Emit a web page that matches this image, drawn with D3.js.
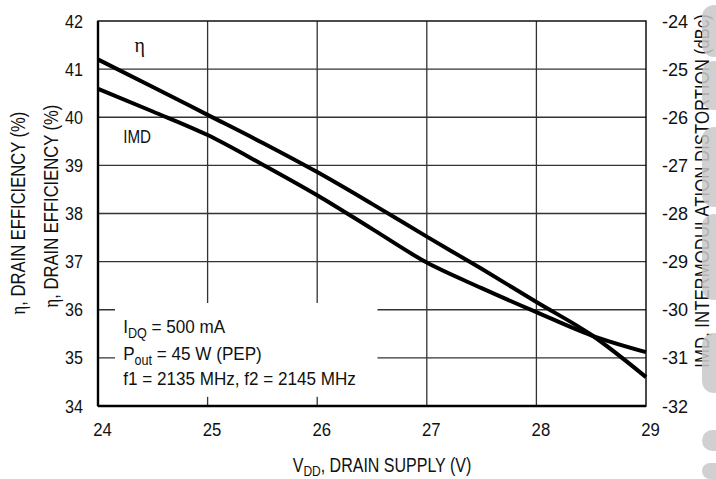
<!DOCTYPE html>
<html lang="en">
<head>
  <meta charset="utf-8" />
  <title>Drain efficiency and IMD vs drain supply</title>
  <script src="https://cdn.jsdelivr.net/npm/d3@7"></script>
  <style>
    body { margin: 0; background: #fff; }
    svg text { font-family: "Liberation Sans", Arial, Helvetica, sans-serif; fill: #111; }
    .greek { font-family: "Liberation Serif", "DejaVu Serif", serif; }
  </style>
</head>
<body>
  <div id="chart"></div>
  <script>
    // values
    const vdd = [24, 24.5, 25, 25.5, 26, 26.5, 27, 27.5, 28, 28.5, 29];
    const eta = [41.2, 40.63, 40.05, 39.47, 38.86, 38.2, 37.52, 36.85, 36.16, 35.48, 34.6];
    const imd = [-25.41, -25.88, -26.37, -26.98, -27.62, -28.32, -29.02, -29.55, -30.05, -30.53, -30.88];

    const xTicks = [24, 25, 26, 27, 28, 29];
    const leftTicks = [34, 35, 36, 37, 38, 39, 40, 41, 42];
    const rightTicks = [-32, -31, -30, -29, -28, -27, -26, -25, -24];

    const W = 716, H = 479;
    const margin = { top: 21, right: 70, bottom: 73, left: 98 };
    const width = W - margin.left - margin.right;
    const height = H - margin.top - margin.bottom;

    const x = d3.scaleLinear().domain([24, 29]).range([0, width]);
    const yL = d3.scaleLinear().domain([34, 42]).range([height, 0]);
    const yR = d3.scaleLinear().domain([-32, -24]).range([height, 0]);

    const svg = d3.select("#chart").append("svg")
      .attr("width", W).attr("height", H);
    const g = svg.append("g")
      .attr("transform", `translate(${margin.left},${margin.top})`);

    // grid
    g.append("g").selectAll("line").data(xTicks.slice(1, -1)).join("line")
      .attr("x1", d => x(d)).attr("x2", d => x(d))
      .attr("y1", 0).attr("y2", height)
      .attr("stroke", "#333").attr("stroke-width", 1.3);
    g.append("g").selectAll("line").data(leftTicks.slice(1, -1)).join("line")
      .attr("x1", 0).attr("x2", width)
      .attr("y1", d => yL(d)).attr("y2", d => yL(d))
      .attr("stroke", "#333").attr("stroke-width", 1.3);

    // white box behind the notes cuts the grid
    g.append("rect")
      .attr("x", x(24.155)).attr("y", yL(36.14))
      .attr("width", x(26.55) - x(24.155)).attr("height", yL(34.19) - yL(36.14))
      .attr("fill", "#fff");

    // frame
    g.append("rect").attr("x", 0).attr("y", 0).attr("width", width).attr("height", height)
      .attr("fill", "none").attr("stroke", "#111").attr("stroke-width", 1.5);
    g.append("line").attr("x1", 0).attr("x2", 0).attr("y1", 0).attr("y2", height)
      .attr("stroke", "#000").attr("stroke-width", 2.4);
    g.append("line").attr("x1", 0).attr("x2", width).attr("y1", height).attr("y2", height)
      .attr("stroke", "#000").attr("stroke-width", 2.4);

    // curves
    const etaLine = d3.line().x((d, i) => x(vdd[i])).y(d => yL(d)).curve(d3.curveMonotoneX);
    const imdLine = d3.line().x((d, i) => x(vdd[i])).y(d => yR(d)).curve(d3.curveMonotoneX);
    g.append("path").datum(eta).attr("d", etaLine)
      .attr("fill", "none").attr("stroke", "#000").attr("stroke-width", 4);
    g.append("path").datum(imd).attr("d", imdLine)
      .attr("fill", "none").attr("stroke", "#000").attr("stroke-width", 4);

    // axes
    const fs = "19px";
    const ax = g.append("g").attr("transform", `translate(0,${height})`)
      .call(d3.axisBottom(x).tickValues(xTicks).tickSize(0).tickPadding(17).tickFormat(d3.format("d")));
    ax.select(".domain").remove();
    ax.selectAll("text").attr("x", 4).style("font-size", fs).attr("data-k", 0.88);

    const al = g.append("g")
      .call(d3.axisLeft(yL).tickValues(leftTicks).tickSize(0).tickPadding(15).tickFormat(d3.format("d")));
    al.select(".domain").remove();
    al.selectAll("text").style("font-size", fs).attr("data-k", 0.85);

    const ar = g.append("g").attr("transform", `translate(${width},0)`)
      .call(d3.axisRight(yR).tickValues(rightTicks).tickSize(0).tickPadding(16).tickFormat(d => "-" + Math.abs(d)));
    ar.select(".domain").remove();
    ar.selectAll("text").style("font-size", fs).attr("data-k", 0.95);

    svg.selectAll(".tick text").attr("fill", "#111");

    // curve labels
    g.append("text").attr("class", "greek").attr("x", x(24.38)).attr("y", 31)
      .attr("text-anchor", "middle").style("font-size", "20px").text("η");
    g.append("text").attr("x", x(24.23)).attr("y", 122)
      .style("font-size", "19px").attr("data-k", 0.8).text("IMD");

    // notes
    const notes = g.append("g").style("font-size", "19px");
    const n1 = notes.append("text").attr("data-k", 0.9).attr("x", x(24.23)).attr("y", 312);
    n1.append("tspan").text("I");
    n1.append("tspan").attr("dy", 5).style("font-size", "14px").text("DQ");
    n1.append("tspan").attr("dy", -5).text(" = 500 mA");
    const n2 = notes.append("text").attr("data-k", 0.9).attr("x", x(24.23)).attr("y", 339);
    n2.append("tspan").text("P");
    n2.append("tspan").attr("dy", 5).style("font-size", "14px").text("out");
    n2.append("tspan").attr("dy", -5).text(" = 45 W (PEP)");
    notes.append("text").attr("data-k", 0.9).attr("x", x(24.23)).attr("y", 364)
      .text("f1 = 2135 MHz, f2 = 2145 MHz");

    // axis titles
    const xt = svg.append("text").attr("data-k", 0.8)
      .attr("x", margin.left + width / 2 + 10).attr("y", 472)
      .attr("text-anchor", "middle").style("font-size", "20px");
    xt.append("tspan").text("V");
    xt.append("tspan").attr("dy", 4).style("font-size", "15px").text("DD");
    xt.append("tspan").attr("dy", -4).text(", DRAIN SUPPLY (V)");

    function leftTitle(bx, cy) {
      const t = svg.append("text").attr("data-k", 0.83).attr("data-rot", `translate(${bx},${cy}) rotate(-90)`)
        .attr("text-anchor", "middle").style("font-size", "20px");
      t.append("tspan").attr("class", "greek").text("η");
      t.append("tspan").text(", DRAIN EFFICIENCY (%)");
    }
    leftTitle(25, 213);
    leftTitle(58, 206);

    svg.append("text").attr("data-k", 0.84).attr("data-rot", "translate(709,191) rotate(-90)")
      .attr("text-anchor", "middle").style("font-size", "20px")
      .text("IMD, INTERMODULATION DISTORTION (dBc)");

    // no narrow face installed: squeeze sans text sideways around its anchor point
    svg.selectAll("text[data-k]").each(function () {
      const t = d3.select(this);
      const k = +t.attr("data-k");
      const rot = t.attr("data-rot");
      if (rot) {
        t.attr("transform", `${rot} scale(${k},1)`);
      } else {
        const ax0 = +(t.attr("x") || 0), ay0 = +(t.attr("y") || 0);
        t.attr("transform", `translate(${ax0},${ay0}) scale(${k},1) translate(${-ax0},${-ay0})`);
      }
    });

    // grey smudges along the right edge of the scan
    const smudges = [[5, 57], [61, 110], [127, 207], [214, 300], [333, 393], [430, 451], [463, 479]];
    svg.append("g").selectAll("rect").data(smudges).join("rect")
      .attr("x", 702).attr("y", d => d[0]).attr("width", 24).attr("height", d => d[1] - d[0])
      .attr("rx", d => Math.min(12, (d[1] - d[0]) / 2))
      .attr("fill", "#c8c8c8").attr("opacity", 0.85);
  </script>
</body>
</html>
